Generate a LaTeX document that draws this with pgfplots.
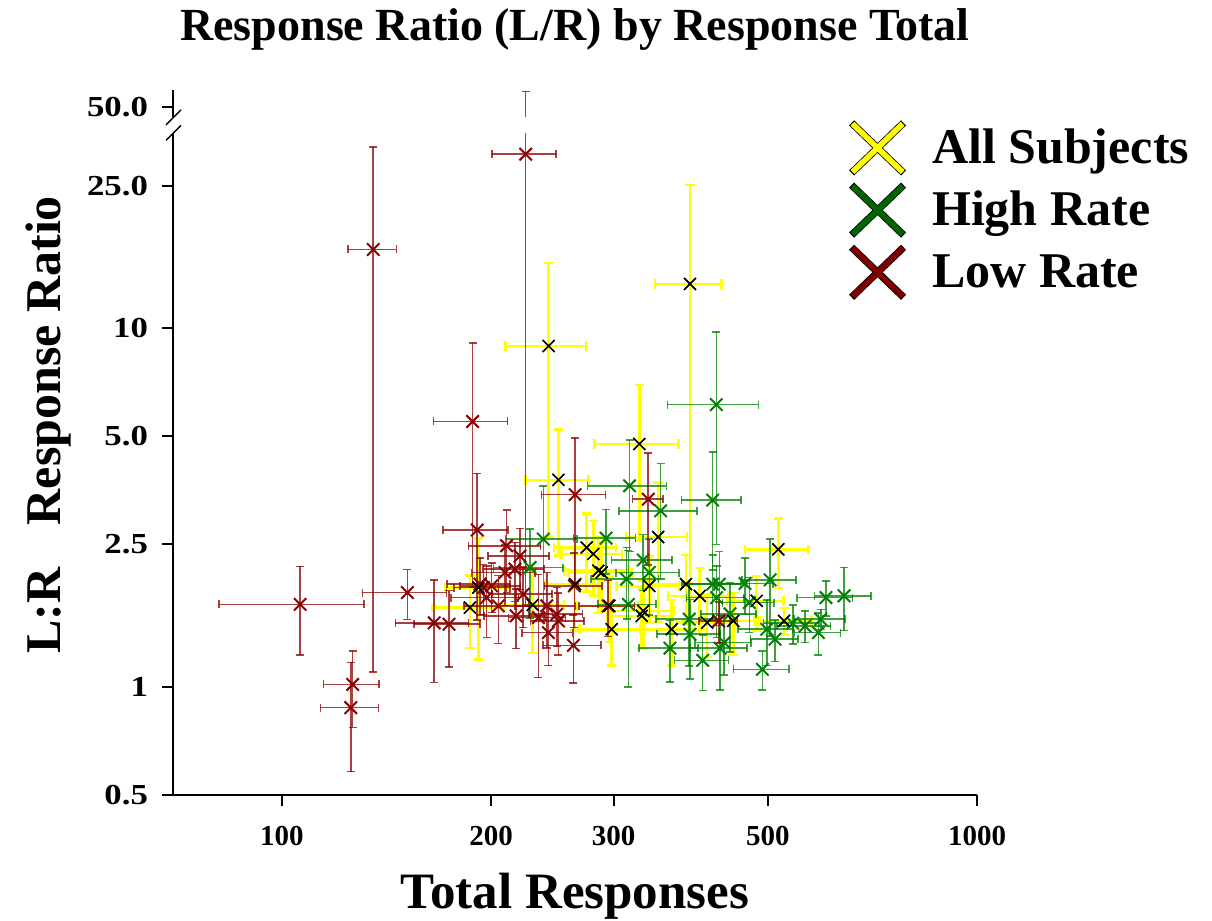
\documentclass[border=0pt]{standalone}
\usepackage{fontspec}
\setmainfont{Liberation Serif}
\newfontfamily\ytickfont{Liberation Serif}[FakeStretch=1.2]
\usepackage{pgfplots}
\pgfplotsset{compat=1.18}
\usepackage{pgfplotstable}

\definecolor{lowred}{RGB}{139,0,0}
\definecolor{legred}{RGB}{128,0,0}
\definecolor{highgreen}{RGB}{0,128,0}
\definecolor{leggreen}{RGB}{0,100,0}
\definecolor{ally}{RGB}{255,255,0}

\pgfplotstableread{
x y ex eyp eym
106.2 1.70 25 0.47 0.47
126.4 1.017 11.6 0.245 0.245
125.6 0.876 12 0.295 0.295
135.3 16.6 10.8 15.5 15.5
151.5 1.834 21 0.29 0.29
165.6 1.51 20 0.48 0.48
173.9 1.497 19 0.36 0.36
188.1 5.50 23 3.6 3.6
191.0 2.74 20.5 1.2 1.2
192.7 1.936 20 0.35 0.35
194.9 1.894 18 0.30 0.30
200.3 1.915 20 0.30 0.30
197.0 1.776 22 0.40 0.40
204.8 1.684 22 0.36 0.36
209.4 2.086 22 0.40 0.40
210.5 2.477 25 0.64 0.64
216.4 2.132 22 0.40 0.40
220.0 2.32 22 0.45 0.45
222.4 1.815 22 0.35 0.35
217.2 1.579 22 0.30 0.30
224.2 30.6 23.6 15.2 28.9
233.9 1.562 22 0.50 0.50
240.4 1.684 24 0.40 0.40
241.7 1.418 20 0.27 0.27
248.5 1.596 22 0.30 0.30
249.9 1.529 22 0.30 0.30
262.6 1.307 25 0.28 0.28
264.1 3.44 28 1.50 1.50
263.5 1.915 25 0.45 0.45
294.6 1.684 27 0.30 0.30
336.5 3.34 17 1.15 1.15
425.0 1.529 27 0.20 0.20
}\lowrate

\pgfplotstableread{
x y ex ey
227.5 2.154 26 0.6
237.7 2.585 28 1.05
292.6 2.60 30 0.53
316.3 3.64 41 1.25
350.6 3.10 45 1.1
416.5 3.32 41 1.2
421.6 6.13 63 3.63
331.0 2.26 33 0.4
337.7 2.086 35 0.5
313.2 2.00 35 0.45
315.1 1.70 30 0.7
416.5 1.936 40 0.4
425.8 1.936 40 0.45
463.7 1.944 45 0.35
503.8 1.99 45 0.6
422.1 1.776 40 0.4
470.3 1.72 40 0.3
606.3 1.776 56 0.2
643.7 1.796 60 0.36
441.1 1.60 40 0.35
385.5 1.546 40 0.4
498.3 1.449 45 0.3
543.1 1.506 50 0.19
565.6 1.48 50 0.15
595.9 1.546 50 0.1
591.3 1.418 45 0.19
512.2 1.359 40 0.18
386.5 1.403 40 0.35
361.6 1.283 35 0.25
403.0 1.187 36 0.21
426.7 1.283 40 0.3
432.9 1.33 40 0.25
491.1 1.12 45 0.14
}\highrate

\pgfplotstableread{
x y ex ey
186.4 1.665 22 0.38
191.7 1.894 20 0.70
229.5 1.694 25 0.45
241.9 8.93 32 6.3
249.9 3.78 26 1.45
274.4 2.45 28 0.6
280.5 2.35 28 0.55
264.1 1.936 25 0.5
285.2 2.11 30 0.5
288.4 2.086 30 0.45
326.7 4.76 45 2.2
347.7 2.62 35 1.1
386.5 13.3 42.5 11.8
337.7 1.915 35 0.4
331.0 1.63 35 0.35
298.1 1.449 30 0.3
295.8 1.684 30 0.35
363.7 1.449 35 0.3
381.3 1.936 40 0.4
399.2 1.795 40 0.35
409.0 1.512 40 0.3
446.0 1.529 40 0.3
481.9 1.739 45 0.3
517.8 2.42 54 0.53
527.7 1.529 50 0.13
329.3 1.579 35 0.3
}\allsubj

\begin{document}
\begin{tikzpicture}
\begin{axis}[
  scale only axis, width=402pt, height=352.5pt,
  xmode=log, ymode=log,
  xmin=69.7, xmax=1000, ymin=0.5, ymax=46.2,
  axis x line*=bottom, axis y line*=left,
  axis line style={line width=1pt, black},
  tick align=outside, major tick length=5.5pt,
  every tick/.style={black, line width=1pt},
  xminorticks=false, yminorticks=false,
  xtick={100,200,300,500,1000}, xticklabels={100,200,300,500,1000},
  ytick={0.5,1,2.5,5,10,25,41.4}, yticklabels={0.5,1,2.5,5.0,10,25.0,50.0},
  xticklabel style={font=\fontsize{14.5}{16}\selectfont\bfseries, yshift=-6.5pt},
  yticklabel style={font=\ytickfont\fontsize{14.5}{16}\selectfont\bfseries, xshift=-3.5pt},
  title={Response Ratio (L/R) by Response Total},
  title style={at={(0.5,1)}, anchor=base, yshift=18.5pt, font=\fontsize{23}{27}\selectfont\bfseries},
  xlabel={Total Responses},
  xlabel style={at={(axis description cs:0.5,0)}, anchor=base, yshift=-56.5pt, font=\fontsize{25.5}{30}\selectfont\bfseries},
  ylabel={L:R\hspace{0.6em} Response Ratio},
  ylabel style={at={(axis description cs:-0.1405,0.525)}, anchor=base, font=\fontsize{25}{30}\selectfont\bfseries},
  legend style={at={(axis description cs:0.839,0.959)}, anchor=north west, draw=none, fill=none, inner sep=0pt,
    row sep=2.5pt, column sep=10.5pt, font=\fontsize{25}{30}\selectfont\bfseries},
  legend cell align=left,
  clip=false,
]
% All Subjects error bars (yellow)
\addplot[forget plot, only marks, mark=x, mark size=4.2pt, mark options={black, line width=0.7pt},
  error bars/.cd, x dir=both, x explicit, y dir=both, y explicit,
  error bar style={line width=1.3pt, ally},
  error mark options={rotate=90, line width=1.3pt, ally, mark size=2.4pt}]
  table[x=x, y=y, x error=ex, y error=ey]{\allsubj};
% High Rate (green)
\addplot[forget plot, only marks, mark=x, mark size=4.4pt, mark options={highgreen, line width=1pt},
  error bars/.cd, x dir=both, x explicit, y dir=both, y explicit,
  error bar style={line width=0.8pt, highgreen, opacity=0.75},
  error mark options={rotate=90, line width=0.8pt, highgreen, opacity=0.75, mark size=2pt}]
  table[x=x, y=y, x error=ex, y error=ey]{\highrate};
% Low Rate (red)
\addplot[forget plot, only marks, mark=x, mark size=4.4pt, mark options={lowred, line width=1pt},
  error bars/.cd, x dir=both, x explicit, y dir=both, y explicit,
  error bar style={line width=0.8pt, lowred, opacity=0.75},
  error mark options={rotate=90, line width=0.8pt, lowred, opacity=0.75, mark size=2pt}]
  table[x=x, y=y, x error=ex, y error plus=eyp, y error minus=eym]{\lowrate};
% All Subjects markers on top
\addplot[forget plot, only marks, mark=x, mark size=4.2pt, mark options={black, line width=0.7pt}]
  table[x=x, y=y]{\allsubj};

\addlegendimage{legend image code/.code={
  \draw[black, line width=3.6pt] (0pt,-12.5pt) -- (26pt,12.5pt);
  \draw[black, line width=3.6pt] (0pt,12.5pt) -- (26pt,-12.5pt);
  \draw[ally, line width=2.8pt, shorten <=0.6pt, shorten >=0.6pt] (0pt,-12.5pt) -- (26pt,12.5pt);
  \draw[ally, line width=2.8pt, shorten <=0.6pt, shorten >=0.6pt] (0pt,12.5pt) -- (26pt,-12.5pt);}}
\addlegendentry{All Subjects}
\addlegendimage{legend image code/.code={
  \draw[black, line width=3.6pt] (0pt,-12.5pt) -- (26pt,12.5pt);
  \draw[black, line width=3.6pt] (0pt,12.5pt) -- (26pt,-12.5pt);
  \draw[leggreen, line width=2.8pt, shorten <=0.6pt, shorten >=0.6pt] (0pt,-12.5pt) -- (26pt,12.5pt);
  \draw[leggreen, line width=2.8pt, shorten <=0.6pt, shorten >=0.6pt] (0pt,12.5pt) -- (26pt,-12.5pt);}}
\addlegendentry{High Rate}
\addlegendimage{legend image code/.code={
  \draw[black, line width=3.6pt] (0pt,-12.5pt) -- (26pt,12.5pt);
  \draw[black, line width=3.6pt] (0pt,12.5pt) -- (26pt,-12.5pt);
  \draw[legred, line width=2.8pt, shorten <=0.6pt, shorten >=0.6pt] (0pt,-12.5pt) -- (26pt,12.5pt);
  \draw[legred, line width=2.8pt, shorten <=0.6pt, shorten >=0.6pt] (0pt,12.5pt) -- (26pt,-12.5pt);}}
\addlegendentry{Low Rate}

\coordinate (O) at (rel axis cs:0,0);
\coordinate (S1) at (axis cs:69.7,38.73);
\coordinate (S2) at (axis cs:69.7,35.1);
\coordinate (BR) at (axis cs:400,35.1);
\end{axis}
\fill[white] ([xshift=-3pt]S1) rectangle (BR);
\draw[line width=0.7pt] ([shift={(-3.5pt,-3.75pt)}]S1) -- ([shift={(4pt,3.75pt)}]S1);
\draw[line width=0.7pt] ([shift={(-3.5pt,-3.75pt)}]S2) -- ([shift={(4pt,3.75pt)}]S2);
\pgfresetboundingbox
\path[use as bounding box] ([shift={(-86.5pt,-63pt)}]O) rectangle ++(606pt,460.5pt);
\end{tikzpicture}
\end{document}
